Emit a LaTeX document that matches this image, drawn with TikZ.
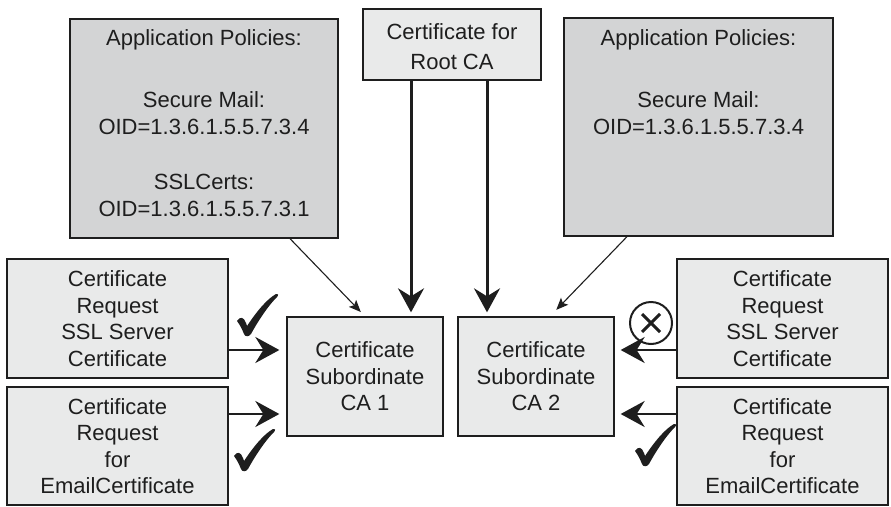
\documentclass[tikz,border=0pt]{standalone}
\usepackage{fontspec}
\setmainfont{Liberation Sans}
\usetikzlibrary{arrows.meta}

\definecolor{boxlight}{HTML}{E9EAEA}
\definecolor{boxdark}{HTML}{D3D4D5}
\definecolor{ink}{HTML}{1E1E1E}

\tikzset{
  box/.style={draw=ink, line width=1.3pt, inner sep=0pt, align=center,
    text=ink, font=\fontsize{22}{26.5}\selectfont},
  lightbox/.style={box, fill=boxlight},
  darkbox/.style={box, fill=boxdark},
  boxtext/.style={inner sep=0pt, align=center, text=ink,
    font=\fontsize{22}{26.5}\selectfont},
  bigarrow/.style={draw=ink, line width=3pt,
    -{Stealth[length=24pt,width=26pt,inset=8pt]}},
  thinarrow/.style={draw=ink, line width=1.1pt,
    -{Stealth[length=12pt,width=10pt,inset=2.5pt]}},
  chk/.pic={
    \path[fill=ink] (-8,-14) .. controls (-5,-19) and (-1,-18) .. (1,-12)
      -- (2,-9) .. controls (12,-24) and (22,-36) .. (31,-41)
      .. controls (33,-42) and (34,-40) .. (32,-38)
      .. controls (22,-28) and (12,-12) .. (6,-1)
      .. controls (4,2) and (0,2) .. (-1,-1)
      .. controls (-3,-6) and (-5,-10) .. (-8,-14) -- cycle;
  }
}

\begin{document}
\begin{tikzpicture}[x=1pt,y=-1pt]
\useasboundingbox (0,0) rectangle (891,506);

% policy boxes
\node[darkbox, minimum width=268pt, minimum height=219pt] (lap) at (204,128.5) {};
\node[boxtext, anchor=north] (laptext) at (204,29)
  {Application Policies:\\[36pt] Secure Mail:\\ OID=1.3.6.1.5.5.7.3.4\\[29pt]
   SSLCerts:\\ OID=1.3.6.1.5.5.7.3.1};
\node[darkbox, minimum width=269pt, minimum height=218pt] (rap) at (698.5,127) {};
\node[boxtext, anchor=north] (raptext) at (698.5,29)
  {Application Policies:\\[36pt] Secure Mail:\\ OID=1.3.6.1.5.5.7.3.4};

% root certificate
\node[lightbox, minimum width=178pt, minimum height=71pt] (root) at (452,44.5) {};
\node[boxtext, font=\fontsize{22}{30}\selectfont] (roottext) at (452,47)
  {Certificate for\\ Root CA};

% subordinate CAs
\node[lightbox, minimum width=156pt, minimum height=119pt] (ca1) at (365,376.5)
  {Certificate\\ Subordinate\\ CA 1};
\node[lightbox, minimum width=156pt, minimum height=119pt] (ca2) at (536,376.5)
  {Certificate\\ Subordinate\\ CA 2};

% certificate requests
\node[lightbox, minimum width=221pt, minimum height=119pt] (lreq1) at (117.5,318.5)
  {Certificate\\ Request\\ SSL Server\\ Certificate};
\node[lightbox, minimum width=221pt, minimum height=118pt] (lreq2) at (117.5,446)
  {Certificate\\ Request\\ for\\ EmailCertificate};
\node[lightbox, minimum width=211pt, minimum height=119pt] (rreq1) at (782.5,318.5)
  {Certificate\\ Request\\ SSL Server\\ Certificate};
\node[lightbox, minimum width=211pt, minimum height=118pt] (rreq2) at (782.5,446)
  {Certificate\\ Request\\ for\\ EmailCertificate};

% guide coordinates for the connectors
\coordinate (v1) at (411,0);
\coordinate (v2) at (487,0);
\coordinate (h1) at (0,350);
\coordinate (h2) at (0,414);
\coordinate (s1) at (290,0);
\coordinate (t1) at (365,0);
\coordinate (s2) at (627,0);
\coordinate (t2) at (550,0);

% root to subordinates
\draw[bigarrow, shorten >=4pt] (root.south -| v1) -- (ca1.north -| v1);
\draw[bigarrow, shorten >=4pt] (root.south -| v2) -- (ca2.north -| v2);

% policies to subordinates
\draw[thinarrow, shorten >=6pt] (lap.south -| s1) -- (ca1.north -| t1);
\draw[thinarrow, shorten >=9pt] (rap.south -| s2) -- (ca2.north -| t2);

% requests to subordinates
\draw[bigarrow, line width=2.6pt, shorten >=7pt] (lreq1.east |- h1) -- (ca1.west |- h1);
\draw[bigarrow, line width=2.6pt, shorten >=7pt] (lreq2.east |- h2) -- (ca1.west |- h2);
\draw[bigarrow, line width=2.6pt, shorten >=6pt] (rreq1.west |- h1) -- (ca2.east |- h1);
\draw[bigarrow, line width=2.6pt, shorten >=6pt] (rreq2.west |- h2) -- (ca2.east |- h2);

% accepted / rejected marks
\pic at (245,335) {chk};
\pic at (242,470) {chk};
\pic at (643,465) {chk};
\node[draw=ink, line width=2pt, circle, minimum size=42pt, inner sep=0pt] (rej) at (651,323) {};
\draw[ink, line width=3pt] ([shift={(-9,-9)}]rej.center) -- ([shift={(9,9)}]rej.center);
\draw[ink, line width=3pt] ([shift={(-9,9)}]rej.center) -- ([shift={(9,-9)}]rej.center);
\end{tikzpicture}
\end{document}
